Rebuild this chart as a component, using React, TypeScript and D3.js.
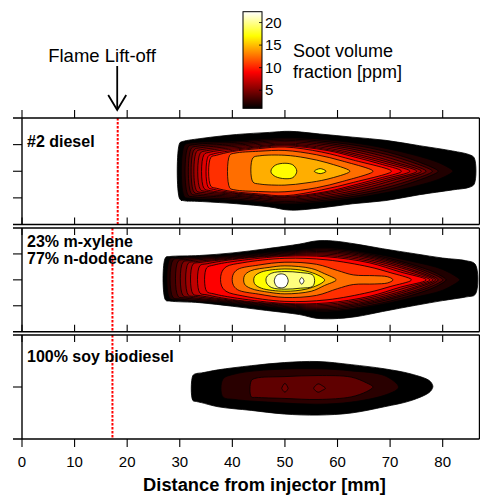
import { useRef, useEffect } from "react"
import * as d3 from "d3"

// each point: [distance from injector (mm), upper edge (mm), lower edge (mm)]
type Pt = [number, number, number]
interface Contour {
  level: number
  pts: Pt[]
}

const xTicks = [0, 10, 20, 30, 40, 50, 60, 70, 80]
const colorTicks = [5, 10, 15, 20]
const colorDomain: [number, number] = [1, 22.4]
const liftoff = [18.2, 17.2, 17.2]
const panelNames = [["#2 diesel"], ["23% m-xylene", "77% n-dodecane"], ["100% soy biodiesel"]]
const radialTicks = [[-5, 0, 5], [-5, 0, 5], [0]]

// #2 diesel
const diesel: Contour[] = [
  { level: 1, pts: [[30.0, 5.3, -5.2], [30.6, 5.6, -5.5], [34.4, 6.2, -5.7], [40.8, 6.9, -6.1], [47.1, 7.3, -6.7], [50.9, 7.5, -7.3], [56.6, 7.0, -6.9], [62.9, 6.4, -6.1], [69.2, 5.8, -5.5], [75.6, 4.8, -4.4], [81.9, 3.8, -3.5], [85.1, 3.1, -3.0], [86.0, 2.5, -2.4]] },
  { level: 2, pts: [[30.9, 4.9, -4.8], [32, 5.3, -5.1], [41, 5.7, -5.5], [50, 6.3, -6.2], [58, 5.9, -5.7], [66, 4.9, -4.6], [74, 3.2, -3.0], [79.5, 1.5, -1.4], [81.9, 0.1, -0.1]] },
  { level: 3, pts: [[31.6, 4.6, -4.5], [32.8, 5.0, -4.8], [41, 5.45, -5.25], [50, 6.05, -5.95], [58, 5.55, -5.4], [66, 4.4, -4.2], [73, 2.6, -2.5], [79.1, 0.1, -0.1]] },
  { level: 4, pts: [[32.2, 4.3, -4.2], [33.4, 4.7, -4.5], [41.5, 5.2, -5.0], [50, 5.8, -5.7], [58, 5.25, -5.1], [66, 3.9, -3.8], [72, 2.4, -2.3], [78.0, 0.1, -0.1]] },
  { level: 5, pts: [[32.7, 4.0, -3.9], [33.9, 4.4, -4.25], [42, 5.0, -4.8], [50, 5.55, -5.45], [58, 4.95, -4.85], [65.5, 3.6, -3.5], [71.5, 2.0, -1.9], [76.8, 0.1, -0.1]] },
  { level: 6, pts: [[33.2, 3.7, -3.65], [34.4, 4.1, -4.0], [42.5, 4.8, -4.65], [50, 5.3, -5.25], [58, 4.65, -4.55], [65, 3.3, -3.2], [70.5, 1.8, -1.7], [75.9, 0.1, -0.1]] },
  { level: 7, pts: [[33.9, 3.4, -3.4], [35.1, 3.85, -3.8], [43, 4.6, -4.5], [50, 5.1, -5.05], [58, 4.35, -4.25], [64.5, 3.0, -2.9], [70, 1.6, -1.5], [75.0, 0.1, -0.1]] },
  { level: 8, pts: [[34.6, 3.1, -3.2], [35.8, 3.6, -3.65], [43.5, 4.45, -4.4], [50, 4.95, -4.92], [58, 4.1, -4.0], [64, 2.8, -2.7], [69, 1.5, -1.4], [73.7, 0.1, -0.1]] },
  { level: 9, pts: [[35.4, 2.8, -3.0], [36.4, 3.25, -3.4], [40, 3.9, -4.0], [45, 4.45, -4.45], [50, 4.78, -4.78], [58, 3.9, -3.8], [63.5, 2.6, -2.5], [68, 1.4, -1.3], [72.1, 0.1, -0.1]] },
  { level: 10.5, pts: [[35.9, 2.6, -2.8], [37, 3.0, -3.2], [40, 3.7, -3.8], [45, 4.25, -4.25], [50, 4.55, -4.6], [57, 3.6, -3.5], [63, 2.1, -2.1], [70.2, 0.1, -0.1]] },
  { level: 12.5, pts: [[39.5, 3.0, -3.1], [40.5, 3.4, -3.5], [45, 3.75, -3.8], [50, 3.9, -3.85], [56, 3.1, -3.1], [61, 1.9, -1.9], [66.7, 0.1, -0.1]] },
  { level: 14.5, pts: [[43.9, 2.5, -2.0], [45.2, 2.9, -2.4], [50, 3.0, -2.6], [54, 2.5, -2.2], [58, 1.6, -1.5], [62.3, 0.1, -0.1]] },
  { level: 17, pts: [[47.4, 0.3, -0.3], [48.2, 1.15, -1.0], [50, 1.5, -1.4], [51.5, 1.2, -1.2], [52.2, 0.3, -0.3]] },
  { level: 17, pts: [[55.6, 0.05, -0.05], [56.7, 0.5, -0.45], [57.8, 0.05, -0.05]] },
]

// 23% m-xylene / 77% n-dodecane
const blend: Contour[] = [
  { level: 1, pts: [[27.3, 4.3, -3.9], [28.1, 4.5, -4.1], [33.8, 4.7, -4.4], [40.1, 5.2, -5.1], [46.5, 6.0, -5.9], [52.8, 6.9, -6.7], [55.9, 7.5, -7.4], [59.1, 7.5, -7.5], [63.5, 6.9, -7.1], [68.6, 6.0, -6.1], [74.9, 5.0, -4.9], [80.0, 4.2, -4.0], [84.4, 3.7, -3.3], [86.2, 3.0, -2.8]] },
  { level: 2, pts: [[28.1, 4.0, -3.6], [29.5, 4.3, -3.9], [40, 4.8, -4.7], [50, 5.6, -5.6], [58, 6.2, -6.2], [66, 5.2, -5.2], [74, 3.6, -3.5], [80, 2.0, -2.0], [83.2, 0.1, -0.1]] },
  { level: 3, pts: [[28.7, 3.8, -3.4], [30.1, 4.1, -3.7], [40, 4.65, -4.55], [50, 5.45, -5.45], [58, 5.95, -5.95], [66, 4.95, -4.95], [74, 3.0, -3.0], [78.5, 1.4, -1.4], [80.6, 0.1, -0.1]] },
  { level: 4, pts: [[29.7, 3.6, -3.2], [31.1, 3.9, -3.5], [40, 4.5, -4.4], [50, 5.3, -5.3], [58, 5.7, -5.7], [66, 4.7, -4.6], [74, 2.7, -2.6], [78, 1.2, -1.2], [80.0, 0.1, -0.1]] },
  { level: 5, pts: [[30.6, 3.4, -3.0], [32, 3.7, -3.35], [40, 4.35, -4.25], [50, 5.15, -5.15], [58, 5.45, -5.45], [66, 4.45, -4.35], [74, 2.4, -2.3], [77.3, 1.1, -1.1], [79.1, 0.1, -0.1]] },
  { level: 6, pts: [[31.6, 3.2, -2.9], [33, 3.5, -3.2], [40, 4.2, -4.1], [50, 5.0, -5.0], [58, 5.2, -5.2], [66, 4.2, -4.1], [74, 2.0, -1.9], [78.6, 0.1, -0.1]] },
  { level: 7, pts: [[32.5, 3.0, -2.7], [33.9, 3.35, -3.05], [40, 4.05, -3.95], [50, 4.85, -4.85], [58, 4.95, -4.95], [66, 3.9, -3.8], [74, 1.7, -1.6], [78.1, 0.1, -0.1]] },
  { level: 8, pts: [[33.8, 2.7, -2.5], [35.2, 3.1, -2.9], [40, 3.9, -3.8], [50, 4.7, -4.7], [58, 4.7, -4.7], [66, 3.6, -3.5], [73, 1.6, -1.5], [77.5, 0.1, -0.1]] },
  { level: 9, pts: [[35.1, 2.3, -2.2], [36.5, 2.85, -2.7], [41, 3.65, -3.55], [50, 4.55, -4.55], [58, 4.45, -4.45], [66, 3.3, -3.2], [72, 1.5, -1.4], [76.8, 0.1, -0.1]] },
  { level: 10.5, pts: [[37.9, 1.2, -1.0], [38.8, 2.5, -2.2], [42, 3.3, -3.1], [50, 4.15, -4.15], [58, 3.85, -3.85], [66, 2.5, -2.4], [70, 1.4, -1.3], [74.0, 0.1, -0.1]] },
  { level: 12.5, pts: [[40.1, 0.9, -0.8], [41, 2.0, -1.9], [45, 2.85, -2.75], [50, 3.4, -3.4], [56, 3.0, -3.0], [60, 1.8, -1.7], [63, 0.95, -0.9], [67, 0.8, -0.8], [69.5, 0.6, -0.6], [70.5, 0.1, -0.1]] },
  { level: 14.5, pts: [[42.3, 0.8, -0.8], [43.5, 1.75, -1.65], [47, 2.4, -2.4], [50, 2.7, -2.7], [55, 2.2, -2.2], [57.5, 1.2, -1.1], [59.7, 0.1, -0.1]] },
  { level: 17, pts: [[44.2, 0.6, -0.7], [45.5, 1.5, -1.6], [50, 2.1, -2.2], [54, 1.7, -1.8], [56.3, 0.9, -1.0], [57.5, 0.1, -0.2]] },
  { level: 19.7, pts: [[46.5, 0.5, -0.6], [47.5, 1.3, -1.5], [50, 1.6, -1.8], [53, 1.4, -1.6], [55.2, 1.0, -1.3], [55.6, 0.3, -0.6]] },
  { level: 22.4, pts: [[48.0, 0.0, -0.4], [48.4, 0.85, -1.25], [49.3, 1.15, -1.55], [50.2, 0.85, -1.25], [50.6, 0.0, -0.4]] },
  { level: 22.4, pts: [[52.8, -0.1, -0.3], [53.2, 0.45, -0.85], [53.6, -0.1, -0.3]] },
]

// 100% soy biodiesel
const biodiesel: Contour[] = [
  { level: 1, pts: [[32.5, 2.2, -2.6], [33.2, 2.6, -2.8], [34.1, 2.7, -3.0], [37.3, 3.3, -3.8], [43.6, 4.1, -4.5], [49.9, 4.7, -5.2], [56.3, 4.9, -5.4], [62.6, 4.3, -5.0], [68.9, 3.5, -3.8], [74.0, 2.5, -2.6], [77.5, 1.2, -1.0], [78.1, 0.3, -0.1]] },
  { level: 2.3, pts: [[38.2, 1.5, -1.9], [40.5, 2.5, -2.4], [46.8, 3.3, -2.9], [56.3, 3.5, -3.3], [62.6, 3.1, -2.9], [68.9, 2.2, -1.6], [71.5, 0.3, -0.3]] },
  { level: 4, pts: [[43.6, 1.2, -1.9], [44.5, 1.7, -2.0], [50, 2.0, -2.2], [56.3, 2.2, -2.4], [62.6, 1.9, -1.9], [65.5, 0.8, -0.9], [66.7, 0.1, -0.1]] },
  { level: 4.5, pts: [[49.4, -0.2, -0.3], [50.0, 0.7, -1.0], [50.6, -0.2, -0.3]] },
  { level: 4.5, pts: [[55.5, -0.15, -0.35], [56.3, 0.6, -1.0], [57.1, 0.25, -0.65], [57.7, -0.2, -0.3]] },
]

const font = "'Liberation Sans', Arial, Helvetica, sans-serif"

const clamp = (v: number) => Math.max(0, Math.min(1, v))
// MATLAB "hot" colormap
function hot(v: number) {
  const t = clamp((v - colorDomain[0]) / (colorDomain[1] - colorDomain[0]))
  const r = clamp(t / 0.375)
  const g = clamp((t - 0.375) / 0.375)
  const b = clamp((t - 0.75) / 0.25)
  return d3.rgb(r * 255, g * 255, b * 255).formatHex()
}

export default function App() {
  const svgRef = useRef<SVGSVGElement | null>(null)

  useEffect(() => {
    if (!svgRef.current) return
    const svg = d3.select(svgRef.current)
    svg.selectAll("*").remove()

    const x = d3.scaleLinear().domain([0, 87]).range([22, 479.5])
    const left = 22
    const right = 479.5

    const panels = [
      { data: diesel, top: 118, bottom: 224.5 },
      { data: blend, top: 228, bottom: 331.7 },
      { data: biodiesel, top: 335, bottom: 439 },
    ]

    const defs = svg.append("defs")

    // Colorbar
    const grad = defs
      .append("linearGradient")
      .attr("id", "hotgrad")
      .attr("x1", 0)
      .attr("y1", 1)
      .attr("x2", 0)
      .attr("y2", 0)
    d3.range(0, 1.0001, 0.025).forEach((t) => {
      grad
        .append("stop")
        .attr("offset", t)
        .attr("stop-color", hot(colorDomain[0] + t * (colorDomain[1] - colorDomain[0])))
    })
    const cb = d3.scaleLinear().domain(colorDomain).range([108.3, 11.7])
    svg
      .append("rect")
      .attr("x", 243)
      .attr("y", cb(colorDomain[1]))
      .attr("width", 19)
      .attr("height", cb(colorDomain[0]) - cb(colorDomain[1]))
      .attr("fill", "url(#hotgrad)")
      .attr("stroke", "#000")
      .attr("stroke-width", 1)
    colorTicks.forEach((v) => {
      svg
        .append("line")
        .attr("x1", 259)
        .attr("x2", 262)
        .attr("y1", cb(v))
        .attr("y2", cb(v))
        .attr("stroke", "#000")
        .attr("stroke-width", 0.8)
      svg
        .append("text")
        .attr("x", 265)
        .attr("y", cb(v) + 5)
        .attr("font-family", font)
        .attr("font-size", 15)
        .text(v)
    })
    svg
      .append("text")
      .attr("x", 293)
      .attr("y", 57)
      .attr("font-family", font)
      .attr("font-size", 18)
      .text("Soot volume")
    svg
      .append("text")
      .attr("x", 293)
      .attr("y", 78)
      .attr("font-family", font)
      .attr("font-size", 18)
      .text("fraction [ppm]")

    // Flame lift-off annotation
    svg
      .append("text")
      .attr("x", 102)
      .attr("y", 61.5)
      .attr("text-anchor", "middle")
      .attr("font-family", font)
      .attr("font-size", 18.5)
      .text("Flame Lift-off")
    const ax = x(liftoff[0]) - 0.5
    svg
      .append("line")
      .attr("x1", ax)
      .attr("x2", ax)
      .attr("y1", 66)
      .attr("y2", 109)
      .attr("stroke", "#000")
      .attr("stroke-width", 1.8)
    svg
      .append("path")
      .attr("d", `M${ax - 9},95L${ax},110L${ax + 9},95`)
      .attr("fill", "none")
      .attr("stroke", "#000")
      .attr("stroke-width", 1.8)

    panels.forEach((p, i) => {
      const y = d3.scaleLinear().domain([-10, 10]).range([p.bottom, p.top])
      const clipId = `panel-clip-${i}`
      defs
        .append("clipPath")
        .attr("id", clipId)
        .append("rect")
        .attr("x", left)
        .attr("y", p.top)
        .attr("width", right - left)
        .attr("height", p.bottom - p.top)

      const g = svg.append("g").attr("clip-path", `url(#${clipId})`)

      const line = d3
        .line<[number, number]>()
        .x((d) => x(d[0]))
        .y((d) => y(d[1]))
        .curve(d3.curveCatmullRomClosed.alpha(0.5))

      const outline = (c: Contour): [number, number][] => [
        ...c.pts.map((d) => [d[0], d[1]] as [number, number]),
        ...c.pts
          .slice()
          .reverse()
          .map((d) => [d[0], d[2]] as [number, number]),
      ]

      g.selectAll("path.contour")
        .data(p.data)
        .join("path")
        .attr("class", "contour")
        .attr("d", (c) => line(outline(c)))
        .attr("fill", (c) => hot(c.level))
        .attr("stroke", "#000")
        .attr("stroke-width", 0.8)
        .attr("stroke-linejoin", "round")

      // lift-off line
      g.append("line")
        .attr("x1", x(liftoff[i]))
        .attr("x2", x(liftoff[i]))
        .attr("y1", p.top)
        .attr("y2", p.bottom)
        .attr("stroke", "#ff0000")
        .attr("stroke-width", 2)
        .attr("stroke-dasharray", "2.5,1.5")

      // labels
      const names = panelNames[i]
      const labelY = i === 0 ? [146.5] : i === 1 ? [247, 264] : [362]
      names.forEach((n, k) => {
        svg
          .append("text")
          .attr("x", 27)
          .attr("y", labelY[k])
          .attr("font-family", font)
          .attr("font-size", 16)
          .attr("font-weight", "bold")
          .text(n)
      })

      // frame
      const frame = svg.append("g").attr("stroke", "#000").attr("fill", "none")
      ;[p.top, p.bottom].forEach((yy) => {
        frame.append("line").attr("x1", 13).attr("x2", right).attr("y1", yy).attr("y2", yy).attr("stroke-width", 1.4)
      })
      ;[left, right].forEach((xx) => {
        frame.append("line").attr("x1", xx).attr("x2", xx).attr("y1", p.top).attr("y2", p.bottom).attr("stroke-width", 1.4)
      })

      // x ticks
      const topDir = i === 0 ? -8 : 7
      const botDir = i === 2 ? 8 : -7
      xTicks.forEach((t) => {
        frame.append("line").attr("x1", x(t)).attr("x2", x(t)).attr("y1", p.top).attr("y2", p.top + topDir).attr("stroke-width", 1.1)
        frame.append("line").attr("x1", x(t)).attr("x2", x(t)).attr("y1", p.bottom).attr("y2", p.bottom + botDir).attr("stroke-width", 1.1)
      })
      // radial ticks
      radialTicks[i].forEach((t) => {
        frame.append("line").attr("x1", 13).attr("x2", left).attr("y1", y(t)).attr("y2", y(t)).attr("stroke-width", 1.1)
      })
    })

    // x axis labels
    const last = panels[2]
    xTicks.forEach((t) => {
      svg
        .append("text")
        .attr("x", x(t))
        .attr("y", last.bottom + 28)
        .attr("text-anchor", "middle")
        .attr("font-family", font)
        .attr("font-size", 15)
        .text(t)
    })
    svg
      .append("text")
      .attr("x", 264.5)
      .attr("y", 491)
      .attr("text-anchor", "middle")
      .attr("font-family", font)
      .attr("font-size", 18.3)
      .attr("font-weight", "bold")
      .text("Distance from injector [mm]")
  }, [])

  return (
    <svg
      ref={svgRef}
      width={480}
      height={495}
      style={{ position: "absolute", left: 0, top: 0, background: "#fff" }}
    ></svg>
  )
}
